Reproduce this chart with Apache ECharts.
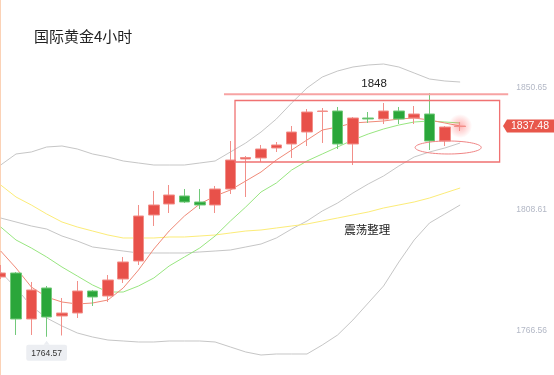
<!DOCTYPE html>
<html><head><meta charset="utf-8">
<script src="https://cdn.jsdelivr.net/npm/echarts@6/dist/echarts.min.js"></script>
<style>html,body{margin:0;padding:0;background:#fff}#c{width:554px;height:375px}</style>
</head><body><div id="c"></div>
<script>
const chartTitle = '国际黄金4小时';
const categories = ['K01','K02','K03','K04','K05','K06','K07','K08','K09','K10','K11','K12','K13','K14','K15','K16','K17','K18','K19','K20','K21','K22','K23','K24','K25','K26','K27','K28','K29','K30','K31','K32','K33','K34','K35','K36','K37'];
const opens  = [1785.25,1786.63,1770.71,1781.44,1771.75,1772.79,1780.40,1778.67,1784.55,1790.78,1806.70,1810.51,1813.28,1811.20,1810.16,1815.70,1826.08,1826.43,1829.89,1831.27,1835.42,1842.52,1842.69,1831.27,1840.27,1839.92,1842.69,1840.27,1841.65,1832.31,1837.33];
const closes = [1786.63,1770.71,1780.75,1771.40,1772.79,1780.40,1778.33,1784.21,1790.44,1806.36,1810.16,1813.62,1811.20,1810.16,1815.70,1825.73,1826.60,1829.54,1830.93,1835.42,1842.34,1842.69,1831.27,1840.27,1839.92,1842.69,1839.92,1841.65,1832.31,1837.15,1837.48];
const lows   = [1784.55,1765.18,1765.18,1764.57,1765.00,1771.06,1775.21,1776.60,1783.17,1789.40,1802.90,1807.39,1810.85,1808.78,1807.39,1813.97,1812.93,1825.04,1828.50,1826.43,1830.58,1831.62,1829.54,1824.00,1838.54,1838.19,1838.19,1838.19,1829.19,1830.58,1835.77];
const highs  = [1789.40,1786.98,1783.52,1782.13,1777.98,1783.86,1780.75,1785.94,1792.17,1810.16,1815.01,1817.08,1815.70,1815.70,1816.74,1832.31,1827.12,1830.93,1831.96,1837.50,1843.38,1843.73,1844.08,1840.61,1842.34,1845.46,1844.08,1844.42,1848.92,1837.50,1838.88];
const bollUpper = [1824.00,1827.81,1828.50,1830.23,1830.58,1829.54,1827.81,1826.77,1825.39,1824.69,1824.00,1824.00,1824.00,1824.69,1825.39,1828.50,1831.61,1835.42,1839.92,1845.46,1850.65,1854.45,1856.53,1857.91,1858.61,1858.95,1857.91,1855.84,1853.76,1853.07,1852.72];
const bollMid   = [1805.66,1804.28,1802.89,1801.85,1799.43,1797.70,1795.63,1794.93,1794.24,1793.55,1793.55,1793.55,1793.55,1793.90,1794.24,1794.59,1795.63,1796.66,1798.74,1801.85,1804.62,1808.08,1810.85,1814.31,1817.43,1820.20,1823.66,1826.77,1828.50,1829.88,1831.61];
const bollLower = [1786.97,1781.44,1775.21,1771.06,1768.29,1765.87,1764.48,1763.44,1763.10,1762.75,1762.75,1763.10,1763.10,1763.10,1762.75,1761.02,1759.29,1758.25,1758.60,1758.60,1758.60,1761.71,1765.17,1770.36,1776.25,1782.13,1790.43,1798.05,1803.93,1807.05,1810.16];
const maYellow  = [1817.08,1812.93,1810.16,1807.05,1804.28,1802.55,1801.16,1799.78,1798.74,1798.74,1798.74,1799.09,1799.09,1799.43,1799.78,1800.47,1801.16,1801.51,1802.20,1802.89,1803.58,1804.62,1805.66,1806.70,1807.74,1809.12,1810.16,1811.20,1812.58,1814.31,1816.04];
const maGreen   = [1802.55,1798.05,1795.28,1792.17,1788.70,1785.59,1782.48,1780.05,1780.05,1782.13,1784.90,1789.05,1792.17,1795.28,1799.43,1804.62,1809.47,1814.66,1817.77,1822.27,1825.39,1827.81,1830.23,1832.65,1834.73,1836.46,1837.84,1838.88,1839.23,1838.88,1838.54];
const maRed     = [1794.24,1788.36,1781.78,1778.32,1776.59,1775.90,1776.25,1777.28,1781.44,1787.67,1794.93,1801.16,1806.35,1810.51,1813.27,1815.35,1818.46,1821.58,1825.73,1829.19,1832.65,1836.11,1837.15,1838.54,1838.88,1839.23,1839.92,1840.27,1839.57,1838.54,1837.50];
const tickLabels = ['1766.56','1808.61','1850.65'];
const lastPrice = 1837.48;
const lowIndex = 3, lowValue = 1764.57;
// annotation anchors in data space (bar index, price)
const boxCorners = [[15.3, 1846.32], [32.58, 1825.04]];
const resistLine = [[14.58, 1848.5], [33.14, 1848.5]];
const resistText = {text: '1848', at: [24.38, 1852.0]};
const rangeText = {text: '震荡整理', at: [23.93, 1801.5]};
const ellipseAt = {center: [29.22, 1830.06], rx: 2.16, ry: 2.25};

const kData = opens.map((o, i) => [o, closes[i], lows[i], highs[i]]);
const numFont = '"Liberation Sans", Arial, sans-serif';
const cjkFont = '"Noto Sans CJK SC", sans-serif';
const chart = echarts.init(document.getElementById('c'), null, {renderer: 'canvas'});

function lineSeries(name, data, color) {
  return {name, type: 'line', data, symbol: 'none', silent: true, z: 1,
    lineStyle: {color, width: 1}, xAxisIndex: 0, yAxisIndex: 0};
}

function renderNotes(params, api) {
  const p = v => api.coord(v);
  const a = p(boxCorners[0]), b = p(boxCorners[1]);
  const l0 = p(resistLine[0]), l1 = p(resistLine[1]);
  const c = p(ellipseAt.center);
  const sz = api.size([ellipseAt.rx, ellipseAt.ry]);
  const t1 = p(resistText.at), t2 = p(rangeText.at);
  const tag = p([36, lastPrice]);
  const rx = tag[0], cy = tag[1];
  return {type: 'group', children: [
    {type: 'line', shape: {x1: l0[0], y1: l0[1], x2: l1[0], y2: l1[1]}, style: {stroke: '#f7a3a3', lineWidth: 2}},
    {type: 'rect', shape: {x: a[0], y: a[1], width: b[0] - a[0], height: b[1] - a[1]}, style: {fill: 'none', stroke: '#f07272', lineWidth: 1.3}},
    {type: 'ellipse', shape: {cx: c[0], cy: c[1], rx: sz[0], ry: sz[1]}, style: {fill: 'none', stroke: '#f08484', lineWidth: 1}},
    {type: 'text', x: t1[0], y: t1[1], style: {text: resistText.text, fill: '#222', font: '11.5px ' + numFont, align: 'center', verticalAlign: 'middle'}},
    {type: 'text', x: t2[0], y: t2[1], style: {text: rangeText.text, fill: '#222', font: '11.5px ' + cjkFont, align: 'center', verticalAlign: 'middle'}},
    {type: 'polygon', shape: {points: [[rx - 49, cy], [rx - 45, cy - 6.5], [rx + 2, cy - 6.5], [rx + 2, cy + 6.5], [rx - 45, cy + 6.5]]}, style: {fill: '#e8574b'}},
    {type: 'text', x: rx - 22, y: cy + 0.5, style: {text: lastPrice.toFixed(2), fill: '#fff', font: '10.5px ' + numFont, align: 'center', verticalAlign: 'middle'}}
  ]};
}

chart.setOption({
  animation: false,
  backgroundColor: '#fff',
  title: {text: chartTitle, left: 34, top: 29, padding: 0,
    textStyle: {fontSize: 15, fontWeight: 'normal', color: '#222', fontFamily: cjkFont}},
  grid: {left: 0.7, right: 2, top: 0, bottom: 0},
  xAxis: [
    {type: 'category', data: categories, boundaryGap: false, show: false},
    {type: 'value', min: 0, max: 36, show: false}
  ],
  yAxis: {type: 'value', position: 'right', min: 1751.33, max: 1881.10, scale: true,
    axisLine: {show: true, lineStyle: {color: '#fbd2b6', width: 1}},
    axisTick: {show: false}, splitLine: {show: false},
    axisLabel: {inside: true, margin: 5, color: '#b3b8c6', fontSize: 8.5, fontFamily: numFont,
      customValues: tickLabels.map(Number), formatter: v => v.toFixed(2)}},
  series: [
    lineSeries('BOLL上轨', bollUpper, '#c6c6c6'),
    lineSeries('BOLL中轨', bollMid, '#c6c6c6'),
    lineSeries('BOLL下轨', bollLower, '#c6c6c6'),
    lineSeries('MA黄', maYellow, '#fcec78'),
    lineSeries('MA绿', maGreen, '#98e680'),
    lineSeries('MA红', maRed, '#f08a78'),
    {type: 'candlestick', data: kData, barWidth: 11, z: 3,
      itemStyle: {color: '#e8514a', color0: '#2aa63a', borderColor: '#f28f89', borderColor0: '#72c97a', borderWidth: 1},
      markPoint: {symbol: 'triangle', symbolSize: [6, 4], symbolOffset: [0, 6],
        itemStyle: {color: '#eceef2'},
        label: {show: true, position: 'bottom', distance: 0, backgroundColor: '#eceef2', borderRadius: 2,
          padding: [4, 5, 3, 5], color: '#333', fontSize: 8.5, fontFamily: numFont,
          formatter: p => p.value.toFixed(2)},
        data: [{coord: [lowIndex, lowValue], value: lowValue}]}},
    {type: 'scatter', data: [[closes.length - 1, lastPrice]], symbolSize: 24, z: 2, silent: true,
      itemStyle: {color: new echarts.graphic.RadialGradient(0.5, 0.5, 0.5, [
        {offset: 0, color: 'rgba(255,50,50,0.45)'}, {offset: 1, color: 'rgba(255,50,50,0)'}])}},
    {type: 'custom', xAxisIndex: 1, yAxisIndex: 0, data: [[0, 1800]], renderItem: renderNotes, clip: false, silent: true, z: 4}
  ]
});
</script></body></html>
